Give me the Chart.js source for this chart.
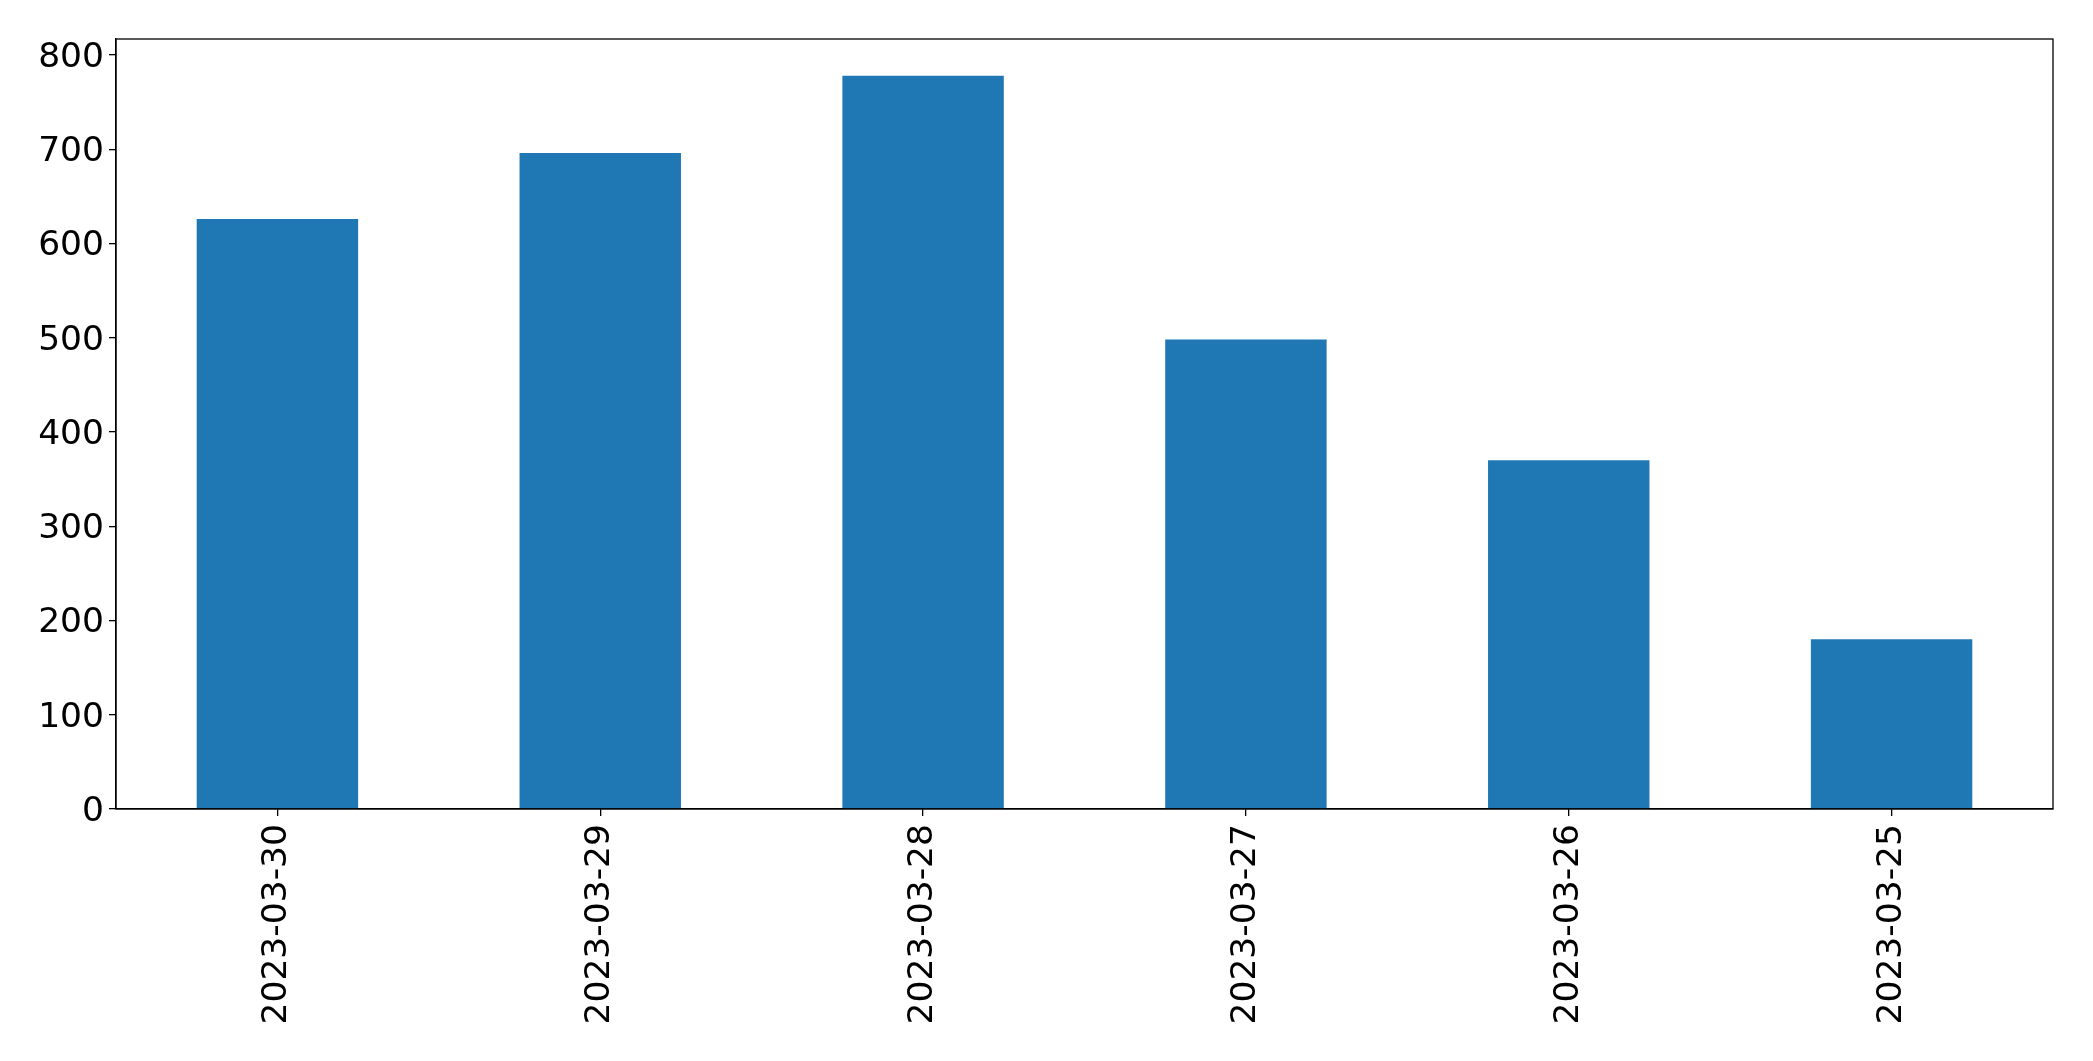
<!DOCTYPE html>
<html>
<head>
<meta charset="utf-8">
<script src="https://cdn.jsdelivr.net/npm/chart.js@4/dist/chart.umd.min.js"></script>
<style>
html,body{margin:0;padding:0;background:#fff;}
#wrap{width:2093px;height:1061px;position:relative;}
</style>
</head>
<body>
<div id="wrap"><canvas id="c" width="2093" height="1061"></canvas></div>
<script>
const categories = ["2023-03-30","2023-03-29","2023-03-28","2023-03-27","2023-03-26","2023-03-25"];
const counts = [626, 696, 778, 498, 370, 180];
const yTicks = [0,100,200,300,400,500,600,700,800];

const frame = {
  id: 'frame',
  afterLayout(chart) {
    const s = chart.scales.y;
    if (s && !s._shifted) {
      const orig = s.drawLabels.bind(s);
      s.drawLabels = function (area) {
        const ctx = this.ctx;
        ctx.save();
        ctx.translate(0, 3);
        orig(area);
        ctx.restore();
      };
      s._shifted = true;
    }
  },
  afterDraw(chart) {
    const a = chart.chartArea, ctx = chart.ctx;
    ctx.save();
    ctx.strokeStyle = '#000';
    ctx.lineWidth = 1.3;
    ctx.strokeRect(a.left, a.top, a.right - a.left, a.bottom - a.top);
    ctx.restore();
  }
};

const font = { family: "'DejaVu Sans', sans-serif", size: 34.5 };

new Chart(document.getElementById('c'), {
  type: 'bar',
  data: {
    labels: categories,
    datasets: [{
      data: counts,
      backgroundColor: '#1f77b4',
      borderWidth: 0,
      barPercentage: 0.5,
      categoryPercentage: 1.0
    }]
  },
  options: {
    responsive: false,
    animation: false,
    devicePixelRatio: 1,
    layout: { padding: { top: 39, right: 40, left: 0, bottom: 0 } },
    plugins: { legend: { display: false }, tooltip: { enabled: false } },
    scales: {
      x: {
        grid: { offset: false, drawOnChartArea: false, drawTicks: true, tickLength: 7, color: '#000', lineWidth: 1.3 },
        border: { display: true, color: '#000', width: 1.3 },
        ticks: { color: '#000', font: font, minRotation: 90, maxRotation: 90, padding: 8, autoSkip: false },
        afterFit(s) { s.height = 252; }
      },
      y: {
        min: 0,
        max: Math.max(...counts) * 1.05,
        afterBuildTicks(s) { s.ticks = yTicks.map(v => ({ value: v })); },
        grid: { drawOnChartArea: false, drawTicks: true, tickLength: 7, color: '#000', lineWidth: 1.3 },
        border: { display: true, color: '#000', width: 1.3 },
        ticks: { color: '#000', font: font, padding: 5 },
        afterFit(s) { s.width = 116; }
      }
    }
  },
  plugins: [frame]
});
</script>
</body>
</html>
